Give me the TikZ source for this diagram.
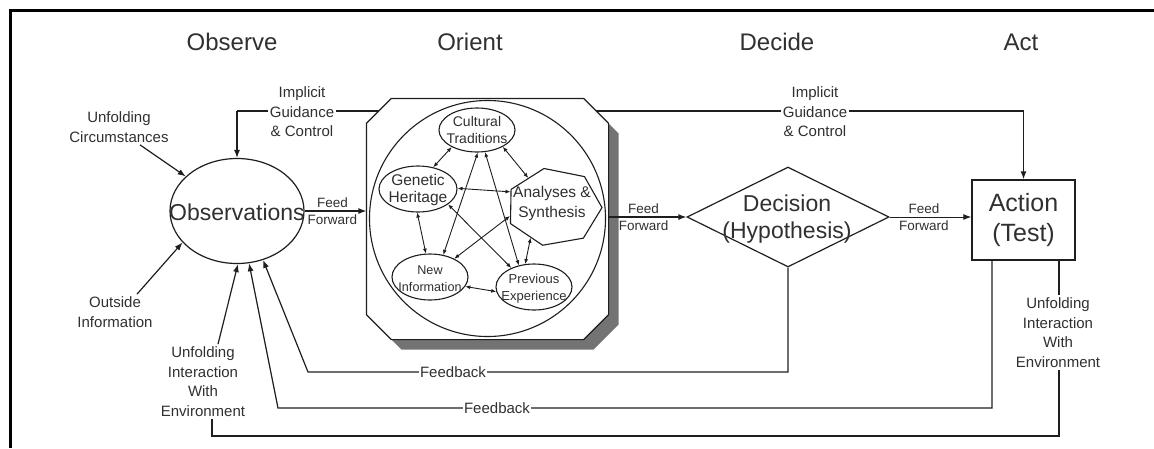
\documentclass[tikz,border=0pt]{standalone}
\usepackage{fontspec}
\setmainfont{Liberation Sans}
\usetikzlibrary{shapes.geometric,arrows.meta,calc}
\definecolor{ink}{HTML}{1E1E1E}
\definecolor{txt}{HTML}{303030}
\begin{document}
\begin{tikzpicture}[x=1pt,y=-1pt,color=ink,line width=1.2pt,
  >={Latex[length=8pt,width=6pt]},
  title/.style={font=\fontsize{24}{28}\selectfont,text=txt,inner sep=0pt},
  lab/.style={font=\fontsize{15}{19.5}\selectfont,align=center,text=txt,inner sep=2pt},
  ff/.style={font=\fontsize{13.5}{17}\selectfont,align=center,text=txt,inner sep=0pt},
  big/.style={font=\fontsize{23}{27}\selectfont,align=center,text=txt,inner sep=0pt},
  oval/.style={ellipse,draw,line width=1.1pt,inner sep=0pt},
  ovaltext/.style={align=center,text=txt,inner sep=0pt},
  link/.style={{Latex[length=5pt,width=4pt]}-{Latex[length=5pt,width=4pt]},line width=0.9pt}]

\useasboundingbox (0,0) rectangle (1154,448);

% outer frame
\draw[line width=3pt,black] (1154,10) -- (10,10) -- (10,448);

% phase headings
\node[title] (tO) at (232,42) {Observe};
\node[title] (tR) at (470,42) {Orient};
\node[title] (tD) at (777,42) {Decide};
\node[title] (tA) at (1021,42) {Act};

% observe
\node[ellipse,draw,minimum width=134,minimum height=105,inner sep=0pt] (obs) at (237,211) {};
\node[big] (obst) at (237,212) {Observations};

% decide
\node[diamond,draw,minimum width=202,minimum height=100,inner sep=0pt] (dec) at (788,217) {};
\node[big] (dect) at (787,219.5) {Decision\\(Hypothesis)};

% act
\node[draw,line width=1.4pt,minimum width=103,minimum height=80,inner sep=0pt,
      font=\fontsize{25}{30}\selectfont,align=center,text=txt] (act) at (1023.5,220) {Action\\(Test)};

% implicit guidance & control (runs behind the orient block)
\coordinate (igL) at (obs.north |- 0,111);
\coordinate (igR) at (act.north |- 0,111);
\draw (igL) -- (igR);

% orient block: octagonal plate with a drop shadow
\node[minimum width=241,minimum height=240,inner sep=0pt] (orient) at (487.5,219) {};
\begin{scope}[transform canvas={shift={(10pt,-10pt)}}]
  \fill[black!55] ([xshift=25pt]orient.north west) -- ([xshift=-25pt]orient.north east)
    -- ([yshift=-25pt]orient.north east) -- ([yshift=25pt]orient.south east)
    -- ([xshift=-25pt]orient.south east) -- ([xshift=25pt]orient.south west)
    -- ([yshift=25pt]orient.south west) -- ([yshift=-25pt]orient.north west) -- cycle;
\end{scope}
\draw[fill=white] ([xshift=25pt]orient.north west) -- ([xshift=-25pt]orient.north east)
  -- ([yshift=-25pt]orient.north east) -- ([yshift=25pt]orient.south east)
  -- ([xshift=-25pt]orient.south east) -- ([xshift=25pt]orient.south west)
  -- ([yshift=25pt]orient.south west) -- ([yshift=-25pt]orient.north west) -- cycle;
\node[circle,draw,line width=1.1pt,minimum size=236,inner sep=0pt] (circ) at (487.5,218.5) {};

\node[oval,minimum width=76,minimum height=44] (ct) at (477,130) {};
\node[ovaltext,font=\fontsize{14}{17}\selectfont] (ctt) at (477,129.5) {Cultural\\Traditions};
\node[oval,minimum width=78,minimum height=46] (gh) at (418,189) {};
\node[ovaltext,font=\fontsize{15.5}{17}\selectfont] (ght) at (418,189.5) {Genetic\\Heritage};
\node[regular polygon,regular polygon sides=7,shape border rotate=12,draw,line width=1.1pt,
      minimum size=96,inner sep=0pt,yscale=0.82,transform shape] (an) at (554,207) {};
\node[ovaltext,font=\fontsize{15.5}{20}\selectfont] (ant) at (552,203) {Analyses \&\\Synthesis};
\node[oval,minimum width=76,minimum height=46] (ni) at (430,277) {};
\node[ovaltext,font=\fontsize{12.6}{17}\selectfont] (nit) at (430,278.5) {New\\Information};
\node[oval,minimum width=76,minimum height=46] (pe) at (534,287) {};
\node[ovaltext,font=\fontsize{13}{17}\selectfont] (pet) at (534,288.5) {Previous\\Experience};

% links between the orient elements
\draw[link] (ct.-146) -- (gh.55);
\draw[link] (ct.-33) -- (an.126);
\draw[link] (gh.1) -- (an.157);
\draw[link] (gh.-92) -- (ni.100);
\draw[link] (an.-122) -- (pe.111);
\draw[link] (ni.-15) -- (pe.-173);
\draw[link] (ct.-88) -- (ni.59);
\draw[link] (ct.-70) -- (pe.125);
\draw[link] (gh.-27) -- (pe.140);
\draw[link] (an.-166) -- (ni.37);

% feed forward
\draw[->] (obs.east) -- (obs.east -| orient.west) node[ff,pos=0.45] (ff1) {Feed\\Forward};
\draw[->] (orient.east |- dec.west) -- (dec.west) node[ff,pos=0.45] (ff2) {Feed\\Forward};
\draw[->,line width=1pt] (dec.east) -- (dec.east -| act.west) node[ff,pos=0.42] (ff3) {Feed\\Forward};

% implicit guidance arrows and labels
\draw[->] (igL) -- (obs.north);
\draw[->] (igR) -- (act.north);
\node[lab,fill=white] (ig1) at (302,112) {Implicit\\Guidance\\\& Control};
\node[lab,fill=white] (ig2) at (815,112) {Implicit\\Guidance\\\& Control};

% feedback loops
\coordinate (fb1) at (308,372);
\draw[->] (dec.south) |- (fb1) -- (obs.-62);
\node[lab,fill=white,inner sep=1pt] (fbt1) at (453,372) {Feedback};
\coordinate (fb2) at (278,408);
\draw[->] ([xshift=-31.5pt]act.south) |- (fb2) -- (obs.-77);
\node[lab,fill=white,inner sep=1pt] (fbt2) at (497,408) {Feedback};

% unfolding interaction with environment
\node[lab] (uiL) at (203,381.5) {Unfolding\\Interaction\\With\\Environment};
\coordinate (ui) at (212,436);
\draw ([xshift=35.5pt]act.south) |- (ui) -- (ui |- uiL.south);
\node[lab,fill=white,inner sep=3pt] (uiR) at (1058,332.5) {Unfolding\\Interaction\\With\\Environment};
\draw[->] ([xshift=15pt]uiL.north) -- (obs.-89);

% outside inputs
\node[lab] (oi) at (115,312) {Outside\\Information};
\draw[->] ([xshift=22pt]oi.north) -- (obs.-150);
\node[lab] (uc) at (119,127) {Unfolding\\Circumstances};
\draw[->] ([xshift=21pt]uc.south) -- (obs.146);

\end{tikzpicture}
\end{document}
